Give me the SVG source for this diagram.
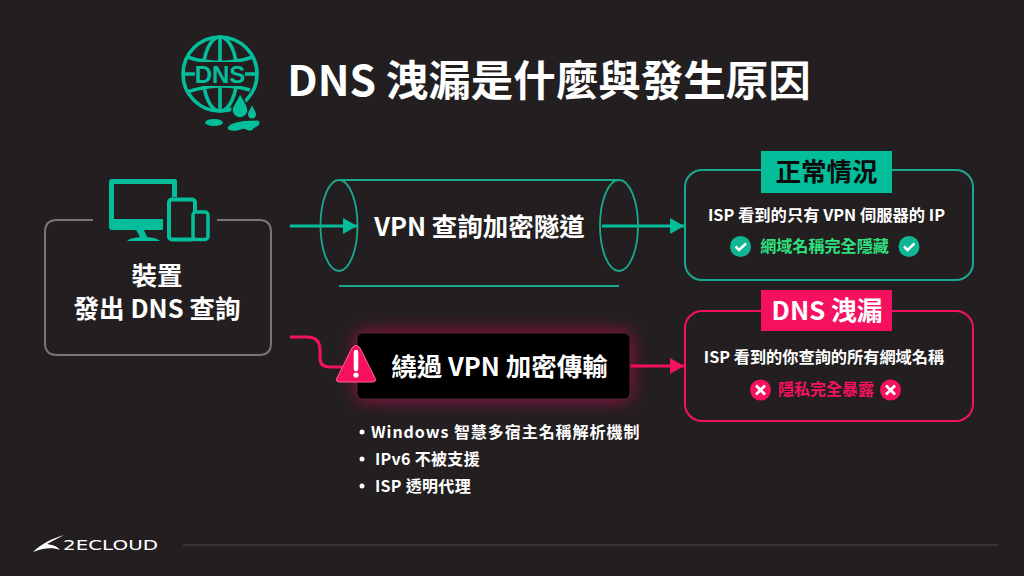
<svg xmlns="http://www.w3.org/2000/svg" width="1024" height="576" viewBox="0 0 1024 576">
<defs>
<style>
text{font-family:"Noto Sans CJK TC","Noto Sans",sans-serif;font-weight:700;fill:#fff;text-anchor:middle}
.t{fill:#04bd9a}
.p{fill:#f5115f}
.s{text-anchor:start}
</style>
<marker id="at" markerWidth="15" markerHeight="17" refX="14" refY="8" orient="auto" markerUnits="userSpaceOnUse"><path d="M0 0L14 8L0 16Z" fill="#04bd9a"/></marker>
<marker id="ap" markerWidth="15" markerHeight="17" refX="14" refY="8" orient="auto" markerUnits="userSpaceOnUse"><path d="M0 0L14 8L0 16Z" fill="#f5115f"/></marker>
<filter id="glow" x="-20%" y="-50%" width="140%" height="200%"><feGaussianBlur stdDeviation="9"/></filter>
</defs>
<rect width="1024" height="576" fill="#231f20"/>

<g id="title-icon">
<g fill="none" stroke="#04bd9a" stroke-width="3.600">
<circle cx="220" cy="74" r="37"/>
<ellipse cx="220" cy="74" rx="17" ry="37"/>
<path d="M220 37V111M187 57Q220 68 253 57M187 92Q220 81 250 90M183 74H257"/>
</g>
<rect x="195" y="62" width="50" height="24" fill="#231f20"/>
<text x="220" y="83" font-size="24" style="fill:#04bd9a;font-family:'Liberation Sans',sans-serif">DNS</text>
<path d="M240 93C244 101 248 105 248 110C248 115 244 118 240 118C236 118 232 115 232 110C232 105 237 101 240 93Z" class="t" stroke="#231f20" stroke-width="1.500"/>
<path d="M252 105C254 110 256 112 256 114.500C256 117 254 118.500 252 118.500C250 118.500 248 117 248 114.500C248 112 250 110 252 105Z" class="t"/>
<ellipse cx="214" cy="122.500" rx="9" ry="3.500" class="t"/>
<path d="M228 127C232 122 240 122 244 121L258 120.500C261 122 259 126 256 127C252 128 254 131 249 130.500C246 130 245 128 242 129C236 132 226 131 228 127Z" class="t"/>
</g>
<text id="title" x="549" y="96" font-size="42.500">DNS 洩漏是什麼與發生原因</text>

<g id="connectors">
<path d="M290 226H357" stroke="#04bd9a" stroke-width="3" fill="none" marker-end="url(#at)"/>
<path d="M602 226H684" stroke="#04bd9a" stroke-width="3" fill="none" marker-end="url(#at)"/>
<path d="M290 337H307Q320 337 320 350V358Q320 367 330 367H342" stroke="#f5115f" stroke-width="3" fill="none"/>
<path d="M630 366H684" stroke="#f5115f" stroke-width="3" fill="none" marker-end="url(#ap)"/>
</g>

<g id="device">
<path d="M93 220H57Q45 220 45 232V343Q45 355 57 355H259Q271 355 271 343V232Q271 220 259 220H217" fill="none" stroke="#77767a" stroke-width="2"/>
<path d="M112 179H175Q177 179 177 181V197H172V184H114V219H163V230H144L147 237Q158 238 160 241H127Q129 238 140 237L136 230H112Q109 230 109 227V182Q109 179 112 179Z" class="t"/>
<rect x="169" y="199.500" width="26" height="40" rx="3" fill="none" stroke="#04bd9a" stroke-width="4"/>
<rect x="193" y="212" width="15" height="27.500" rx="3" fill="#231f20" stroke="#04bd9a" stroke-width="3.500"/>
<text font-size="25.500"><tspan x="157" y="284.500">裝置</tspan><tspan x="157" y="318">發出 DNS 查詢</tspan></text>
</g>

<g id="tunnel">
<path d="M339 180H619M339 286H619" stroke="#1aa98f" stroke-width="1.800" fill="none"/>
<ellipse cx="339" cy="225.500" rx="18.500" ry="45.500" fill="none" stroke="#1aa98f" stroke-width="1.800"/>
<ellipse cx="619" cy="225.500" rx="19" ry="45.500" fill="none" stroke="#1aa98f" stroke-width="1.800"/>
<text x="479.500" y="235.500" font-size="25.500">VPN 查詢加密隧道</text>
</g>

<g id="normal">
<rect x="685" y="170" width="288" height="110" rx="17" fill="none" stroke="#1aa98f" stroke-width="2"/>
<rect x="761" y="151" width="131" height="42" class="t"/>
<text x="826.500" y="181" font-size="25.500" style="fill:#0b0b0b">正常情況</text>
<text x="826.500" y="221" font-size="16.300">ISP 看到的只有 VPN 伺服器的 IP</text>
<circle cx="740.500" cy="246.500" r="10.500" fill="#0fb795"/>
<path d="M735.500 246.500L739 250L746 243.500" fill="none" stroke="#fff" stroke-width="2.500"/>
<text x="824.500" y="252" font-size="16.100" style="fill:#2fe07f">網域名稱完全隱藏</text>
<circle cx="909" cy="246.500" r="10.500" fill="#0fb795"/>
<path d="M904 246.500L907.500 250L914.500 243.500" fill="none" stroke="#fff" stroke-width="2.500"/>
</g>

<g id="leak">
<rect x="685" y="311" width="288" height="110" rx="17" fill="none" stroke="#f5115f" stroke-width="2"/>
<rect x="761" y="290" width="131" height="41" class="p"/>
<text x="827" y="320" font-size="25.700">DNS 洩漏</text>
<text x="824" y="363" font-size="16.200">ISP 看到的你查詢的所有網域名稱</text>
<circle cx="760.500" cy="390" r="10.500" class="p"/>
<path d="M756 385.500L765 394.500M765 385.500L756 394.500" stroke="#fff" stroke-width="2.800"/>
<text x="826" y="395" font-size="16" style="fill:#f5115f">隱私完全暴露</text>
<circle cx="890.500" cy="390" r="10.500" class="p"/>
<path d="M886 385.500L895 394.500M895 385.500L886 394.500" stroke="#fff" stroke-width="2.800"/>
</g>

<g id="bypass">
<rect x="357" y="333" width="273" height="66" rx="6" fill="#f5115f" opacity=".65" filter="url(#glow)"/>
<rect x="357" y="333" width="273" height="66" rx="6" fill="#000" stroke="#4a2530" stroke-width="1"/>
<path d="M352 348Q356 343 360 348L375 378Q377 382 372 382H340Q335 382 337 378Z" class="p" stroke="#ff6a95" stroke-width="1"/>
<path d="M356 352V369" stroke="#fff" stroke-width="4.500" stroke-linecap="round"/>
<circle cx="356" cy="375" r="2.600" fill="#fff"/>
<text x="499.500" y="376" font-size="25.500">繞過 VPN 加密傳輸</text>
</g>

<g id="causes">
<circle cx="362" cy="432" r="2.500" fill="#fff"/>
<text class="s" x="371" y="438" font-size="16" letter-spacing=".95">Windows 智慧多宿主名稱解析機制</text>
<circle cx="362" cy="459" r="2.500" fill="#fff"/>
<text class="s" x="375" y="465" font-size="16" letter-spacing=".3">IPv6 不被支援</text>
<circle cx="362" cy="486" r="2.500" fill="#fff"/>
<text class="s" x="375" y="492" font-size="16" letter-spacing=".3">ISP 透明代理</text>
</g>

<g id="footer">
<path d="M33 552C42 543 54 538 64 535L47 544C54 545 58 547 60 550C53 547 42 548 33 552Z" fill="#fff"/>
<text x="110.500" y="550" font-size="14.500" textLength="95" lengthAdjust="spacingAndGlyphs" style="font-family:'DejaVu Sans',sans-serif;font-weight:400">2ECLOUD</text>
<path d="M183 545H998" stroke="#4a484a" stroke-width="1.200"/>
</g>
</svg>
